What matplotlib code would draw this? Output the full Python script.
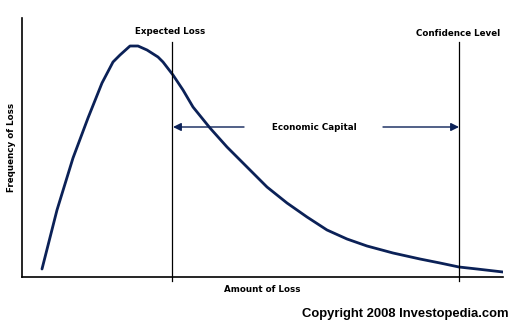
import numpy as np
import matplotlib.pyplot as plt

# loss distribution curve (arbitrary units)
amount = [20, 35, 51, 66, 80, 91, 98, 108, 116, 125, 136, 141, 151, 161, 171, 188,
          205, 225, 245, 265, 285, 305, 325, 345, 371, 398, 418, 437, 455, 481]
frequency = [8, 67, 119, 159, 194, 215, 222, 231, 231, 227, 220, 215, 202, 187, 170, 149,
             130, 110, 90, 74, 60, 47, 38, 31, 24, 18, 14, 10, 8, 5]

expected_loss = 150
confidence_level = 437
capital_y = 150

navy = '#0b2157'

fig = plt.figure(figsize=(5.22, 3.32), dpi=100)
ax = fig.add_axes([22 / 522, 55 / 332, 481 / 522, 259 / 332])
ax.set_xlim(0, 481)
ax.set_ylim(0, 259)

ax.plot(amount, frequency, color=navy, lw=2.0, solid_capstyle='round',
        solid_joinstyle='round')

# vertical markers
for x in (expected_loss, confidence_level):
    ax.plot([x, x], [-4, 235], color='black', lw=0.9, clip_on=False)

# economic capital arrows
arrow = dict(arrowstyle='-|>', color=navy, lw=1.0, mutation_scale=12,
             shrinkA=0, shrinkB=0)
ax.annotate('', xy=(expected_loss + 1, capital_y), xytext=(222, capital_y), arrowprops=arrow)
ax.annotate('', xy=(confidence_level, capital_y), xytext=(361, capital_y), arrowprops=arrow)

font = dict(family='DejaVu Sans', fontweight='bold', fontsize=6.3)
ax.text(expected_loss - 2, 246, 'Expected Loss', ha='center', va='center', **font)
ax.text(confidence_level - 1, 244, 'Confidence Level', ha='center', va='center', **font)
ax.text(292, capital_y, 'Economic Capital', ha='center', va='center', **font)
ax.set_xlabel('Amount of Loss', labelpad=6, **font)
ax.set_ylabel('Frequency of Loss', labelpad=4, **font)

for side in ('top', 'right'):
    ax.spines[side].set_visible(False)
for side in ('left', 'bottom'):
    ax.spines[side].set_linewidth(1.2)
ax.set_xticks([])
ax.set_yticks([])

fig.text(509 / 522, 1 - 314 / 332, 'Copyright 2008 Investopedia.com', ha='right', va='center',
         family='Liberation Sans', fontweight='bold', fontsize=9.4)

fig.savefig('out.png', dpi=100)
